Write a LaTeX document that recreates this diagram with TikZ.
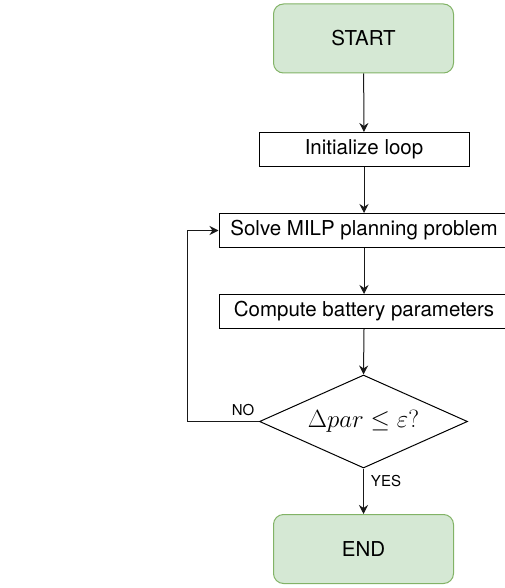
\documentclass[tikz,border=0pt]{standalone}
\usepackage{fontspec}
\setsansfont{TeX Gyre Heros}
\usetikzlibrary{arrows.meta,shapes.geometric}
\definecolor{termfill}{HTML}{D5E8D4}
\definecolor{termdraw}{HTML}{82B366}
\tikzset{
  x=1pt, y=-1pt,
  every node/.style={font=\sffamily\fontsize{20.5}{24}\selectfont, inner sep=0pt},
  term/.style={draw=termdraw, fill=termfill, rounded corners=10pt, line width=1pt, minimum width=180pt, minimum height=69pt},
  procbox/.style={draw=black, line width=1pt, minimum height=34pt},
  decision/.style={draw=black, line width=1pt, diamond, aspect=2.24, minimum width=208pt, minimum height=93pt},
  conn/.style={draw=black!90, line width=1pt, -{Stealth[length=9pt,width=9pt,inset=3pt]}},
  lbl/.style={font=\sffamily\fontsize{15}{18}\selectfont}
}
\begin{document}
\begin{tikzpicture}
\useasboundingbox (0,0) rectangle (505,588);
\clip (0,0) rectangle (505,588);
\node[term] (start) at (363.5,38.5) {START};
\node[procbox, minimum width=210pt] (init) at (364,149.5) {Initialize loop};
\node[procbox, minimum width=290pt] (solve) at (364,230.5) {Solve MILP planning problem};
\node[procbox, minimum width=290pt] (comp) at (364,311.5) {Compute battery parameters};
\node[decision] (dec) at (363.5,421.5) {\fontsize{24.5}{28}\selectfont$\Delta par \leq \varepsilon ?$};
\node[term] (end) at (363.5,549) {END};
\coordinate (c1) at (187,421.5);
\coordinate (c2) at (187,230.5);
\draw[conn] (start) -- (init);
\draw[conn] (init) -- (solve);
\draw[conn] (solve.south -| init.south) -- (comp.north -| init.south);
\draw[conn] (comp.south -| init.south) -- (dec.north);
\draw[conn] (dec.south) -- (end.north);
\draw[conn] (dec.west) -- (c1) -- (c2) -- (solve.west);
\node[lbl] (no) at (243,410) {NO};
\node[lbl] (yes) at (386,481) {YES};
\end{tikzpicture}
\end{document}
